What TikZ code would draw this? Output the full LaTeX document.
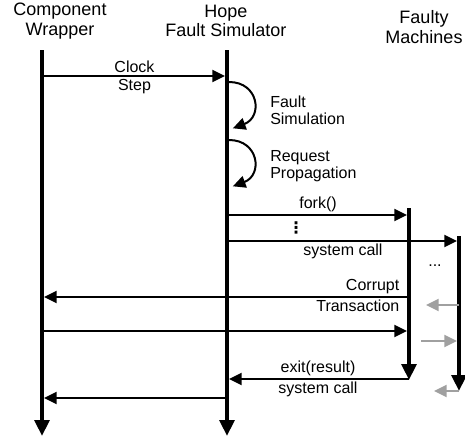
\documentclass[tikz,border=0pt]{standalone}
\usepackage{fontspec}
\setmainfont{Liberation Sans}
\newfontfamily\dotsfont{DejaVu Sans}
\usetikzlibrary{positioning, arrows.meta}
\definecolor{msggray}{HTML}{A0A0A0}
\begin{document}
\begin{tikzpicture}[x=0.75pt, y=-0.75pt,
          hd/.style={align=center, font=\fontsize{13.5}{14.5}\selectfont, inner sep=0pt},
          lbl/.style={align=left, font=\fontsize{12}{13}\selectfont, inner sep=1.5pt},
          life/.style={line width=3pt, -{Triangle[length=12pt,width=11pt]}},
          msg/.style={line width=1.5pt, -{Triangle[length=9.5pt,width=9pt]}, shorten >=1.5pt},
          ghost/.style={msg, draw=msggray, color=msggray}]
        \useasboundingbox (0,0) rectangle (465,437);
        % lifeline heads
        \node[hd] (cw) at (60,21) {Component\\Wrapper};
        \node[hd] (hope) at (226,21) {Hope\\Fault Simulator};
        \node[hd] (fm) at (424,27) {Faulty\\Machines};
        \coordinate (cwtop) at (42,50); \coordinate (cwend) at (42,436);
        \coordinate (hptop) at (227,50); \coordinate (hpend) at (227,436);
        \coordinate (f1top) at (409,208); \coordinate (f1end) at (409,380);
        \coordinate (f2top) at (459,236); \coordinate (f2end) at (459,391);
        \draw[life] (cwtop) -- (cwend);
        \draw[life] (hptop) -- (hpend);
        \draw[life] (f1top) -- (f1end);
        \draw[life] (f2top) -- (f2end);
        % message rows
        \foreach \n/\y in {clk/76, fork/215, sys/241, cor/297, gone/305, ret/331, gtwo/341, exit/379, gthree/391, back/398}{
          \coordinate (cw\n) at (42,\y); \coordinate (hp\n) at (227,\y);
          \coordinate (fa\n) at (409,\y); \coordinate (fb\n) at (459,\y);
        }
        \draw[msg] (cwclk) -- (hpclk) node[midway, above, lbl] (clk) {Clock} node[midway, below, lbl] (stp) {Step};
        % self loops
        \coordinate (sima) at (229,82); \coordinate (simb) at (231,129);
        \coordinate (propa) at (229,140); \coordinate (propb) at (231,187);
        \draw[msg] (sima) .. controls (259,82) and (263,117) .. (simb);
        \draw[msg] (propa) .. controls (259,140) and (263,175) .. (propb);
        \node[lbl, anchor=west] (sim) at (268,110) {Fault\\Simulation};
        \node[lbl, anchor=west] (prop) at (268,166) {Request\\Propagation};
        \draw[msg] (hpfork) -- (fafork) node[midway, above, lbl] (fk) {fork()};
        \node[font=\dotsfont\bfseries\fontsize{12}{12}\selectfont, inner sep=0pt] (vd) at (296,228) {⋮};
        \draw[msg] (hpsys) -- (fbsys) node[midway, below, lbl] (sc) {system call};
        \node[lbl] (more) at (435,266) {...};
        \draw[msg] (facor) -- (cwcor) node[pos=0, above left, lbl, xshift=-5pt] (crp) {Corrupt}
          node[pos=0, below left, lbl, xshift=-5pt] (trn) {Transaction};
        \coordinate (gonex) at (424,305);
        \draw[ghost] (fbgone) -- (gonex);
        \draw[msg] (cwret) -- (faret);
        \coordinate (gtwox) at (421,341);
        \draw[ghost] (gtwox) -- (fbgtwo);
        \draw[msg] (faexit) -- (hpexit) node[midway, above, lbl] (ex) {exit(result)}
          node[midway, below, lbl] (sc2) {system call};
        \coordinate (gthreex) at (432,391);
        \draw[ghost] (fbgthree) -- (gthreex);
        \draw[msg] (hpback) -- (cwback);
      \end{tikzpicture}
\end{document}
